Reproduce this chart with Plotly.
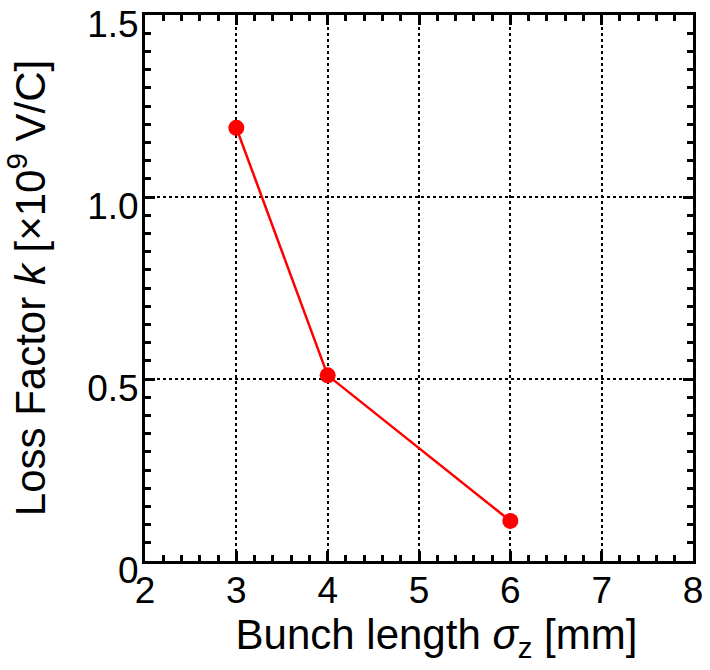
import plotly.graph_objects as go

# Loss factor versus bunch length
bunch_length_mm = [3, 4, 6]
loss_factor = [1.19, 0.51, 0.11]

x_ticks = [2, 3, 4, 5, 6, 7, 8]
y_ticks = [0, 0.5, 1.0, 1.5]
y_tick_text = ["0", "0.5", "1.0", "1.5"]

FONT = "Liberation Sans, Arial, sans-serif"

fig = go.Figure()
fig.add_trace(go.Scatter(
    x=bunch_length_mm,
    y=loss_factor,
    mode="lines+markers",
    line=dict(color="#ff0000", width=2.5),
    marker=dict(color="#ff0000", size=16),
    showlegend=False,
    cliponaxis=False,
))

axis_common = dict(
    showline=True,
    linecolor="black",
    linewidth=3,
    mirror="allticks",
    ticks="inside",
    ticklen=10,
    tickwidth=2.5,
    tickcolor="black",
    showgrid=True,
    gridcolor="black",
    gridwidth=1.5,
    griddash="dot",
    zeroline=False,
    automargin=False,
    ticklabeloverflow="allow",
    tickfont=dict(family=FONT, size=37, color="black"),
)

fig.update_xaxes(
    range=[2, 8],
    tickvals=x_ticks,
    ticktext=[str(v) for v in x_ticks],
    minor=dict(dtick=0.2, ticks="inside", ticklen=6, tickwidth=2.5, tickcolor="black", showgrid=False),
    title=dict(text="&nbsp;&nbsp;&nbsp;Bunch length <i>σ</i><sub>z</sub> [mm]",
               font=dict(family=FONT, size=42, color="black"), standoff=4),
    ticklabelstandoff=-5,
    **axis_common,
)
fig.update_yaxes(
    range=[0, 1.5],
    tickvals=y_ticks,
    ticktext=y_tick_text,
    minor=dict(dtick=0.05, ticks="inside", ticklen=6, tickwidth=2.5, tickcolor="black", showgrid=False),
    title=dict(text="Loss Factor <i>k</i> [×10<sup>9</sup> V/C]",
               font=dict(family=FONT, size=42, color="black"), standoff=40),
    ticklabelstandoff=-4,
    ticklabelshift=9,
    **axis_common,
)

fig.update_layout(
    width=710,
    height=670,
    margin=dict(l=145, r=17, t=15, b=109),
    paper_bgcolor="white",
    plot_bgcolor="white",
)

fig.write_html("out.html")
